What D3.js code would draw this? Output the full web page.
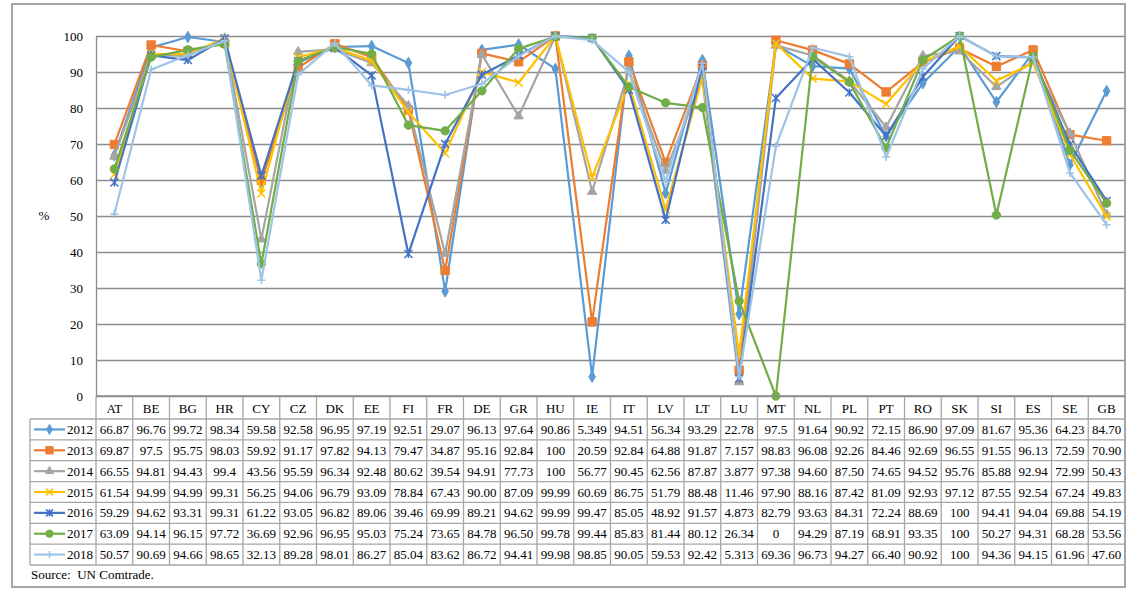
<!DOCTYPE html>
<html><head><meta charset="utf-8">
<script src="https://cdn.jsdelivr.net/npm/d3@7"></script>
<style>
body{margin:0;background:#fff;}
svg{display:block;font-family:"Liberation Serif","Times New Roman",serif;}
</style></head>
<body><svg id="c" width="1139" height="594"></svg>
<script>
const countries = ["AT","BE","BG","HR","CY","CZ","DK","EE","FI","FR","DE","GR","HU","IE","IT","LV","LT","LU","MT","NL","PL","PT","RO","SK","SI","ES","SE","GB"];
const years = ["2012","2013","2014","2015","2016","2017","2018"];
const v2012 = ["66.87","96.76","99.72","98.34","59.58","92.58","96.95","97.19","92.51","29.07","96.13","97.64","90.86","5.349","94.51","56.34","93.29","22.78","97.5","91.64","90.92","72.15","86.90","97.09","81.67","95.36","64.23","84.70"];
const v2013 = ["69.87","97.5","95.75","98.03","59.92","91.17","97.82","94.13","79.47","34.87","95.16","92.84","100","20.59","92.84","64.88","91.87","7.157","98.83","96.08","92.26","84.46","92.69","96.55","91.55","96.13","72.59","70.90"];
const v2014 = ["66.55","94.81","94.43","99.4","43.56","95.59","96.34","92.48","80.62","39.54","94.91","77.73","100","56.77","90.45","62.56","87.87","3.877","97.38","94.60","87.50","74.65","94.52","95.76","85.88","92.94","72.99","50.43"];
const v2015 = ["61.54","94.99","94.99","99.31","56.25","94.06","96.79","93.09","78.84","67.43","90.00","87.09","99.99","60.69","86.75","51.79","88.48","11.46","97.90","88.16","87.42","81.09","92.93","97.12","87.55","92.54","67.24","49.83"];
const v2016 = ["59.29","94.62","93.31","99.31","61.22","93.05","96.82","89.06","39.46","69.99","89.21","94.62","99.99","99.47","85.05","48.92","91.57","4.873","82.79","93.63","84.31","72.24","88.69","100","94.41","94.04","69.88","54.19"];
const v2017 = ["63.09","94.14","96.15","97.72","36.69","92.96","96.95","95.03","75.24","73.65","84.78","96.50","99.78","99.44","85.83","81.44","80.12","26.34","0","94.29","87.19","68.91","93.35","100","50.27","94.31","68.28","53.56"];
const v2018 = ["50.57","90.69","94.66","98.65","32.13","89.28","98.01","86.27","85.04","83.62","86.72","94.41","99.98","98.85","90.05","59.53","92.42","5.313","69.36","96.73","94.27","66.40","90.92","100","94.36","94.15","61.96","47.60"];
const yTicks = [0,10,20,30,40,50,60,70,80,90,100];
const colors = ["#5B9BD5","#ED7D31","#A5A5A5","#FFC000","#4472C4","#70AD47","#9DC3E6"];
const markers = ["diamond","square","triangle","x","star","circle","plus"];
const yAxisLabel = "%";
const sourceText = "Source:  UN Comtrade.";

const series = [v2012,v2013,v2014,v2015,v2016,v2017,v2018].map((labels,i)=>({
  year: years[i], labels, values: labels.map(Number), color: colors[i], marker: markers[i]
}));

const svg = d3.select("#c");
const L = 96, R = 1125, T = 36, B = 396;
const x = d3.scaleBand().domain(countries).range([L,R]).padding(0);
const y = d3.scaleLinear().domain([0,100]).range([B,T]);
const bw = x.bandwidth();
const cx = c => x(c) + bw/2;

// outer border
svg.append("rect").attr("x",12).attr("y",4).attr("width",R-12).attr("height",583)
  .attr("fill","none").attr("stroke","#a6a6a6").attr("stroke-width",2);

// grid
const grid = svg.append("g").attr("transform",`translate(${L},0)`)
  .call(d3.axisLeft(y).tickValues(yTicks).tickSize(-(R-L)).tickFormat(""));
grid.select(".domain").remove();
grid.selectAll("line").attr("stroke","#8c8c8c").attr("stroke-width",1.3);

// y axis labels
const ya = svg.append("g").attr("transform",`translate(${L},0)`)
  .call(d3.axisLeft(y).tickValues(yTicks).tickSize(0).tickPadding(13).tickFormat(d3.format("d")));
ya.select(".domain").attr("stroke","#8c8c8c").attr("stroke-width",1.3);
ya.selectAll("text").attr("font-size",13).attr("fill","#000").attr("font-family","Liberation Serif");
svg.append("text").attr("x",44).attr("y",y(50)+4).attr("text-anchor","middle")
  .attr("font-size",13).text(yAxisLabel);

// markers
function markerPath(type, s){
  const h = s/2;
  switch(type){
    case "diamond": return d3.symbol(d3.symbolDiamond, s*s*0.6)();
    case "square": return d3.symbol(d3.symbolSquare, s*s*1.1)();
    case "triangle": return d3.symbol(d3.symbolTriangle, s*s*0.6)();
    case "circle": return d3.symbol(d3.symbolCircle, s*s*0.85)();
    case "x": return `M${-h},${-h}L${h},${h}M${-h},${h}L${h},${-h}`;
    case "star": return `M${-h},${-h}L${h},${h}M${-h},${h}L${h},${-h}M0,${-h}L0,${h}`;
    case "plus": return `M${-h},0L${h},0M0,${-h}L0,${h}`;
  }
}
const filled = t => ["diamond","square","triangle","circle"].includes(t);

const line = d3.line().x((d,i)=>cx(countries[i])).y(d=>y(d));
const gs = svg.append("g");
series.forEach(s=>{
  const g = gs.append("g");
  g.append("path").attr("d",line(s.values)).attr("fill","none")
    .attr("stroke",s.color).attr("stroke-width",2.2).attr("stroke-linejoin","round");
  g.selectAll("path.m").data(s.values).join("path").attr("class","m")
    .attr("transform",(d,i)=>`translate(${cx(countries[i])},${y(d)})`)
    .attr("d",markerPath(s.marker,8))
    .attr("fill",filled(s.marker)?s.color:"none")
    .attr("stroke",s.color).attr("stroke-width",filled(s.marker)?1:1.5);
});

// data table
const tblColor = "#a6a6a6";
const hdrTop = B, hdrBot = 419, rowH = (565-419)/7;
const tbl = svg.append("g");
// header vertical lines
const edges = countries.map(c=>x(c)).concat([R]);
tbl.selectAll("line.hv").data(edges).join("line").attr("class","hv")
  .attr("x1",d=>d).attr("x2",d=>d).attr("y1",hdrTop).attr("y2",565)
  .attr("stroke",tblColor).attr("stroke-width",1.3);
// legend left border
tbl.append("line").attr("x1",30).attr("x2",30).attr("y1",hdrBot).attr("y2",565)
  .attr("stroke",tblColor).attr("stroke-width",1.3);
// horizontal lines
d3.range(8).forEach(i=>{
  const yy = hdrBot + i*rowH;
  tbl.append("line").attr("x1",30).attr("x2",R).attr("y1",yy).attr("y2",yy)
    .attr("stroke",tblColor).attr("stroke-width",1.3);
});
// x axis line
tbl.append("line").attr("x1",L).attr("x2",R).attr("y1",B).attr("y2",B)
  .attr("stroke","#8c8c8c").attr("stroke-width",1.3);
// header text
tbl.selectAll("text.h").data(countries).join("text").attr("class","h")
  .attr("x",d=>cx(d)).attr("y",(hdrTop+hdrBot)/2+5).attr("text-anchor","middle")
  .attr("font-size",13).text(d=>d);
// rows
series.forEach((s,r)=>{
  const yc = hdrBot + r*rowH + rowH/2;
  tbl.selectAll(null).data(s.labels).join("text")
    .attr("x",(d,i)=>cx(countries[i])).attr("y",yc+4.5).attr("text-anchor","middle")
    .attr("font-size",13).text(d=>d);
  tbl.append("line").attr("x1",34).attr("x2",65).attr("y1",yc).attr("y2",yc)
    .attr("stroke",s.color).attr("stroke-width",2.2);
  tbl.append("path").attr("transform",`translate(49.5,${yc})`)
    .attr("d",markerPath(s.marker,7))
    .attr("fill",filled(s.marker)?s.color:"none")
    .attr("stroke",s.color).attr("stroke-width",filled(s.marker)?1:1.5);
  tbl.append("text").attr("x",93).attr("y",yc+4.5).attr("text-anchor","end")
    .attr("font-size",13).text(s.year);
});
svg.append("text").attr("x",31).attr("y",579).attr("font-size",13).attr("xml:space","preserve")
  .style("white-space","pre").text(sourceText);
</script></body></html>
